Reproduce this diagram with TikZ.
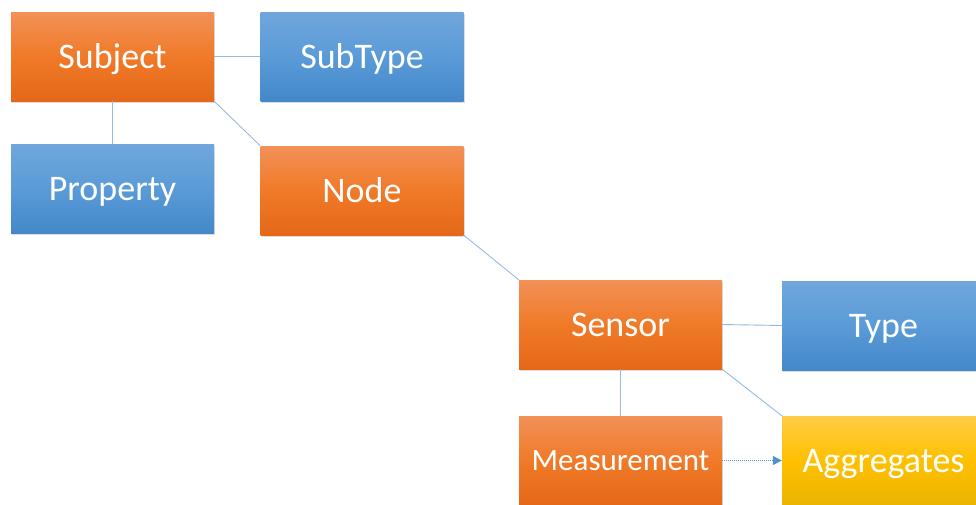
\documentclass[tikz,border=0pt]{standalone}
\usepackage{fontspec}
\setmainfont{Carlito}
\usetikzlibrary{shadows,arrows.meta}

\definecolor{orangeTop}{RGB}{242,145,88}
\definecolor{orangeMid}{RGB}{240,122,40}
\definecolor{orangeBot}{RGB}{228,104,24}
\definecolor{blueTop}{RGB}{112,166,220}
\definecolor{blueMid}{RGB}{90,155,215}
\definecolor{blueBot}{RGB}{68,136,202}
\definecolor{yellowTop}{RGB}{255,204,70}
\definecolor{yellowMid}{RGB}{255,192,0}
\definecolor{yellowBot}{RGB}{234,180,0}
\definecolor{linkBlue}{RGB}{150,185,225}
\definecolor{arrowBlue}{RGB}{80,145,210}

\tikzset{
  box/.style={rectangle, minimum width=203pt, minimum height=89pt,
    inner sep=0pt, text=white, font=\fontsize{36}{40}\selectfont,
    text height=23pt, text depth=0pt,
    drop shadow={opacity=0.28, shadow xshift=1.2pt, shadow yshift=-1.8pt}},
  entity/.style={box, top color=orangeTop, bottom color=orangeBot, middle color=orangeMid},
  lookup/.style={box, top color=blueTop, bottom color=blueBot, middle color=blueMid},
  summary/.style={box, top color=yellowTop, bottom color=yellowBot, middle color=yellowMid},
  link/.style={draw=linkBlue, line width=0.9pt},
  flow/.style={draw=arrowBlue, line width=1.1pt, dash pattern=on 1pt off 1pt,
    -{Triangle[width=9pt,length=9pt]}}
}

\begin{document}
\begin{tikzpicture}[x=1pt, y=-1pt]
  \useasboundingbox (0,0) rectangle (976,504);
  \clip (0,0) rectangle (976,504);

  % entity boxes
  \node[entity] (subject) at (112.5,56.5) {Subject};
  \node[lookup] (subtype) at (362,56.5) {SubType};
  \node[lookup] (property) at (112.5,188.5) {Property};
  \node[entity] (node) at (362,190.5) {Node};
  \node[entity] (sensor) at (620.5,324.5) {Sensor};
  \node[lookup] (type) at (883.5,325.5) {Type};
  \node[entity, font=\fontsize{31}{34}\selectfont, text height=20pt] (measurement) at (620.5,460.5) {Measurement};
  \node[summary] (aggregates) at (883.5,460.5) {Aggregates};

  % relations
  \draw[link] (subject.east) -- (subtype.west);
  \draw[link] (subject.south) -- (property.north);
  \draw[link] (subject.south east) -- (node.north west);
  \draw[link] (node.south east) -- (sensor.north west);
  \draw[link] (sensor.east) -- (type.west);
  \draw[link] (sensor.south) -- (measurement.north);
  \draw[link] (sensor.south east) -- (aggregates.north west);
  \draw[flow] (measurement.east) -- (aggregates.west);
\end{tikzpicture}
\end{document}
